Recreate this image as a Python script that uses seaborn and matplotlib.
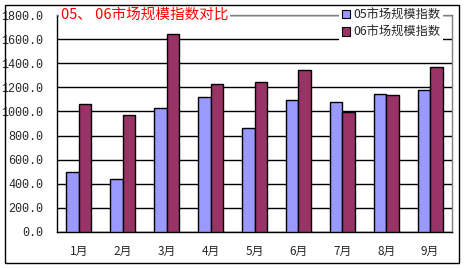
import matplotlib
matplotlib.use("Agg")
import matplotlib.pyplot as plt
import seaborn as sns
import pandas as pd
from matplotlib.patches import Rectangle, Patch
from matplotlib.ticker import MultipleLocator, FuncFormatter

months = ["1月", "2月", "3月", "4月", "5月", "6月", "7月", "8月", "9月"]
series_names = ["05市场规模指数", "06市场规模指数"]
values_05 = [495, 437, 1026, 1117, 862, 1094, 1078, 1142, 1177]
values_06 = [1064, 967, 1639, 1225, 1246, 1343, 997, 1133, 1366]
title_text = "05、 06市场规模指数对比"
colors = ["#9999FF", "#993366"]

df = pd.DataFrame({
    "month": months * 2,
    "series": [series_names[0]] * len(months) + [series_names[1]] * len(months),
    "value": values_05 + values_06,
})

sns.set_theme(style="white")
plt.rcParams['font.family'] = ['Noto Sans CJK SC', 'DejaVu Sans']

fig = plt.figure(figsize=(4.65, 2.68), dpi=100)
ax = fig.add_axes([57/465, 1-232/268, (452-57)/465, (232-15)/268])

sns.barplot(data=df, x="month", y="value", hue="series", order=months,
            hue_order=series_names, palette=colors, width=0.57, gap=0,
            edgecolor="black", linewidth=1.0, saturation=1, ax=ax, legend=False,
            zorder=3)

ax.set_ylim(0, 1800)
ax.set_xlim(-0.5, len(months) - 0.5)
ax.yaxis.set_major_locator(MultipleLocator(200))
ax.yaxis.set_major_formatter(FuncFormatter(lambda v, p: f"{v:.1f}"))
ax.grid(axis="y", color="black", linewidth=1.0, zorder=0)
ax.set_axisbelow(True)
ax.set_xlabel("")
ax.set_ylabel("")

for s in ["top", "right"]:
    ax.spines[s].set_color("#808080")
    ax.spines[s].set_linewidth(1.0)
for s in ["left", "bottom"]:
    ax.spines[s].set_color("black")
    ax.spines[s].set_linewidth(1.0)

ax.tick_params(axis="y", labelsize=8.5, length=0, pad=10)
ax.tick_params(axis="x", labelsize=8.5, length=0, pad=9)
for lab in ax.get_yticklabels():
    lab.set_family(['Liberation Mono', 'DejaVu Sans'])

# small tick marks between categories
ax.set_xticks([i + 0.5 for i in range(len(months) - 1)], minor=True)
ax.tick_params(axis="x", which="minor", length=3, color="black", direction="in")

# title inside plot area
ax.text(0.010, 1.0, title_text, transform=ax.transAxes, color="red",
        fontsize=10.5, ha="left", va="center",
        bbox=dict(facecolor="white", edgecolor="none", pad=1), zorder=6)

handles = [Patch(facecolor=c, edgecolor="black", linewidth=0.8) for c in colors]
leg = ax.legend(handles, series_names, loc="upper right",
                bbox_to_anchor=(443/465, 1-6/268), bbox_transform=fig.transFigure,
                frameon=True, fontsize=8.8, handlelength=0.65, handleheight=0.65,
                handletextpad=0.3, labelspacing=0.35, borderpad=0.2,
                borderaxespad=0, fancybox=False)
leg.get_frame().set_edgecolor("none")
leg.get_frame().set_facecolor("white")
leg.get_frame().set_alpha(1)
leg.set_zorder(7)

# outer frame
fig.patches.append(Rectangle((5/465, 5/268), (459-5)/465, (263-5)/268,
                             transform=fig.transFigure, fill=False,
                             edgecolor="black", linewidth=1.0))

fig.savefig("out.png", dpi=100)
